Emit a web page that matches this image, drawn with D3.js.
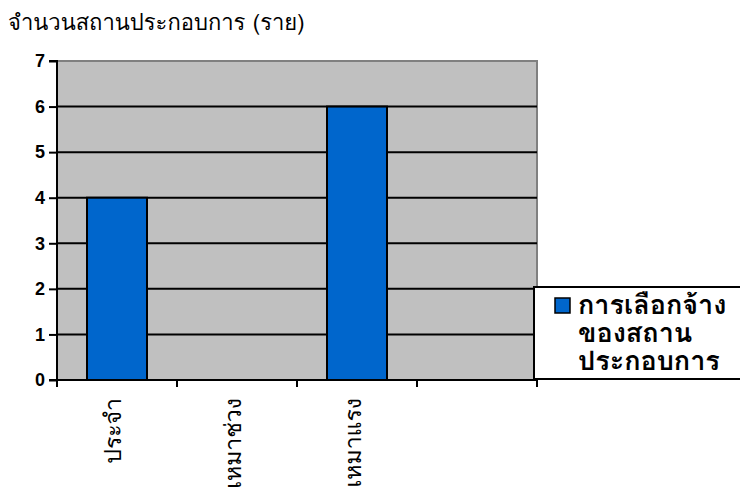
<!DOCTYPE html>
<html>
<head>
<meta charset="utf-8">
<script src="https://cdn.jsdelivr.net/npm/d3@7"></script>
<style>
  html, body { margin: 0; padding: 0; background: #fff; }
  svg { display: block; }
</style>
</head>
<body>
<svg id="chart" width="740" height="488"></svg>
<script>
// Number of establishments by hiring type
const categories = ["ประจำ", "เหมาช่วง", "เหมาแรง", ""];
const values = [4, 0, 6, null];
const yTicks = [0, 1, 2, 3, 4, 5, 6, 7];
const seriesName = ["การเลือกจ้าง", "ของสถาน", "ประกอบการ"];
const yTitle = "จำนวนสถานประกอบการ (ราย)";

const svg = d3.select("#chart");
const numFont = "Arial, 'Liberation Sans', sans-serif";
const thaiFont = "Tahoma, Loma, 'Noto Sans Thai Looped', 'Noto Sans Thai', 'DejaVu Sans', sans-serif";

const plot = { left: 57, top: 61, right: 537, bottom: 380 };

const x = d3.scaleBand()
  .domain(categories.map((c, i) => i))
  .range([plot.left, plot.right])
  .paddingInner(0)
  .paddingOuter(0);

const y = d3.scaleLinear().domain([0, 7]).range([plot.bottom, plot.top]);

// plot background
svg.append("rect")
  .attr("x", plot.left).attr("y", plot.top)
  .attr("width", plot.right - plot.left).attr("height", plot.bottom - plot.top)
  .attr("fill", "#C0C0C0");

// gray frame on top and right
svg.append("path")
  .attr("d", `M${plot.left},${plot.top}H${plot.right}V${plot.bottom}`)
  .attr("fill", "none").attr("stroke", "#808080").attr("stroke-width", 2);

// horizontal gridlines
svg.append("g").selectAll("line")
  .data(yTicks.filter(t => t > 0 && t < 7))
  .join("line")
  .attr("x1", plot.left).attr("x2", plot.right)
  .attr("y1", d => y(d)).attr("y2", d => y(d))
  .attr("stroke", "#000").attr("stroke-width", 2);

// bars
const barW = x.bandwidth() / 2;
svg.append("g").selectAll("rect")
  .data(values.map((v, i) => ({ v, i })).filter(d => d.v))
  .join("rect")
  .attr("x", d => x(d.i) + (x.bandwidth() - barW) / 2)
  .attr("y", d => y(d.v))
  .attr("width", barW)
  .attr("height", d => y(0) - y(d.v))
  .attr("fill", "#0066CC")
  .attr("stroke", "#000").attr("stroke-width", 2);

// y axis
const yAxis = svg.append("g")
  .attr("transform", `translate(${plot.left},0)`)
  .call(d3.axisLeft(y).tickValues(yTicks).tickSize(8).tickPadding(4).tickFormat(d3.format("d")));
yAxis.select(".domain").attr("stroke", "#000").attr("stroke-width", 2).attr("d", `M-8,${plot.top}H0V${plot.bottom + 1}`);
yAxis.selectAll(".tick line").attr("stroke", "#000").attr("stroke-width", 2);
yAxis.selectAll(".tick text")
  .attr("font-family", numFont).attr("font-size", 18).attr("font-weight", "bold").attr("fill", "#000");

// x axis
const xAxis = svg.append("g")
  .attr("transform", `translate(0,${plot.bottom})`);
xAxis.append("line")
  .attr("x1", plot.left - 8).attr("x2", plot.right)
  .attr("y1", 0).attr("y2", 0)
  .attr("stroke", "#000").attr("stroke-width", 2);
xAxis.selectAll("line.tick")
  .data(d3.range(categories.length + 1))
  .join("line").attr("class", "tick")
  .attr("x1", i => i < categories.length ? x(i) : plot.right)
  .attr("x2", i => i < categories.length ? x(i) : plot.right)
  .attr("y1", 0).attr("y2", 7)
  .attr("stroke", "#000").attr("stroke-width", 2);
xAxis.selectAll("text")
  .data(categories)
  .join("text")
  .attr("transform", (d, i) => `translate(${x(i) + x.bandwidth() / 2 - 4},18) rotate(-90)`)
  .attr("text-anchor", "end")
  .attr("dominant-baseline", "central")
  .attr("font-family", thaiFont).attr("font-size", 23).attr("fill", "#000")
  .text(d => d);

// axis title
svg.append("text")
  .attr("x", 8).attr("y", 30)
  .attr("font-family", thaiFont).attr("font-size", 22).attr("fill", "#000")
  .text(yTitle);

// legend: one wrapped label next to the swatch
const lg = svg.append("g");
lg.append("rect")
  .attr("x", 534).attr("y", 287).attr("width", 212).attr("height", 92)
  .attr("fill", "#fff").attr("stroke", "#000").attr("stroke-width", 2);
lg.append("rect")
  .attr("x", 555).attr("y", 298).attr("width", 15).attr("height", 15)
  .attr("fill", "#0066CC").attr("stroke", "#000").attr("stroke-width", 1.5);
lg.append("text")
  .attr("x", 578).attr("y", 314)
  .attr("font-family", thaiFont).attr("font-size", 27).attr("font-weight", "bold").attr("fill", "#000")
  .selectAll("tspan")
  .data(seriesName)
  .join("tspan")
  .attr("x", 578)
  .attr("dy", (d, i) => i === 0 ? 0 : 28)
  .text(d => d);
</script>
</body>
</html>
